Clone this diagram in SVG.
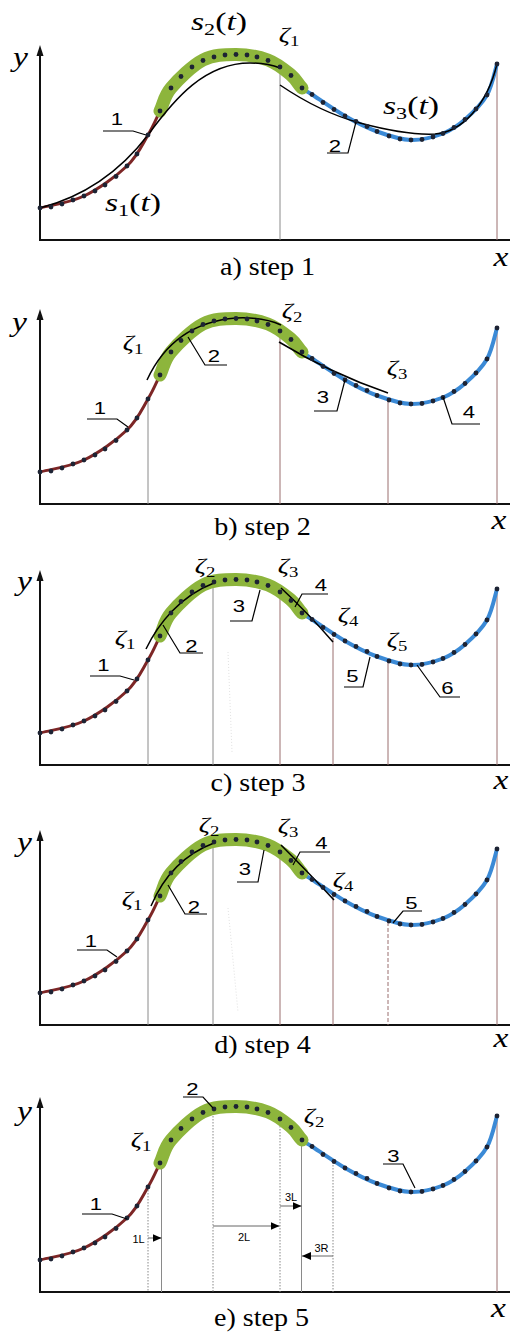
<svg xmlns="http://www.w3.org/2000/svg" width="510" height="1335" viewBox="0 0 510 1335">
<style>
 .ax{stroke:#111;stroke-width:2;fill:none}
 .red{stroke:#7d2626;stroke-width:3;fill:none;stroke-linecap:round}
 .blue{stroke:#3b8ad6;stroke-width:4;fill:none;stroke-linecap:round}
 .band{stroke:#8db53c;stroke-width:13;fill:none;stroke-linecap:round}
 .fit{stroke:#000;stroke-width:1.5;fill:none}
 .ld{stroke:#000;stroke-width:1.2;fill:none}
 .vg{stroke:#8a8a8a;stroke-width:1;fill:none}
 .vr{stroke:#9a6e6e;stroke-width:1;fill:none}
 .vd{stroke:#888;stroke-width:1;stroke-dasharray:1.5 1.5;fill:none}
 .arr{stroke:#666;stroke-width:1;fill:none}
 .dot{fill:#1d2333}
 .it{font-family:'Liberation Serif',serif;font-style:italic;fill:#000}
 .cap{font-family:'Liberation Serif',serif;font-size:26px;fill:#000}
 .num{font-family:'Liberation Sans',sans-serif;font-size:17px;fill:#000}
 .sm{font-family:'Liberation Sans',sans-serif;font-size:11px;fill:#000}
 .up{font-style:normal}
</style>
<defs>
 <marker id="ah" markerUnits="userSpaceOnUse" markerWidth="9" markerHeight="8" refX="9" refY="4" orient="auto">
  <path d="M0,0 L9,4 L0,8 Z" fill="#000"/>
 </marker>
 <g id="axes">
  <path class="ax" d="M40,241V53M39,240H510"/>
  <path d="M40,45 L36.5,56 L43.5,56 Z" fill="#111"/>
 </g>
 <g id="line">
  <path class="red" d="M40,208 C47.3,206 69.5,203 84,196 C98.5,189 116.3,176.2 127,166 C137.7,155.8 142.5,144.2 148,135 C153.5,125.8 156.2,118.8 160,111"/>
  <path class="blue" d="M302,88 C305.5,91.25 304.8,89.8 312,94.5 C319.2,99.2 334.2,109.8 345,116 C355.8,122.2 366,127.5 377,131.5 C388,135.5 400,139.7 411,140 C422,140.3 434,136.9 443,133.5 C452,129.9 457.7,125.9 465,119.5 C472.3,113.1 481.7,104.25 487,95 C492.3,85.75 495.3,69.2 497,64"/>
  <path class="band" d="M160,111 C163.8,103.2 163.8,96.5 171,88 C178.2,79.5 192.2,65.6 203,60 C213.8,54.4 225.2,54.5 236,54.5 C246.8,54.5 258.8,56.6 268,60 C277.2,63.4 285.3,70.3 291,75 C296.7,79.7 298.5,84.75 302,88"/>
 </g>
 <g id="dots" class="dot">
  <circle cx="40" cy="208" r="2.4"/><circle cx="51" cy="207" r="2.4"/><circle cx="62" cy="204" r="2.4"/>
  <circle cx="73" cy="200" r="2.4"/><circle cx="84" cy="196" r="2.4"/><circle cx="95" cy="191" r="2.4"/>
  <circle cx="105" cy="185" r="2.4"/><circle cx="116" cy="176.5" r="2.4"/><circle cx="127" cy="166" r="2.4"/>
  <circle cx="137" cy="154" r="2.4"/><circle cx="148" cy="135" r="2.4"/><circle cx="160" cy="111" r="2.4"/>
  <circle cx="171" cy="88" r="2.4"/><circle cx="181" cy="76.5" r="2.4"/><circle cx="192" cy="67" r="2.4"/>
  <circle cx="203" cy="60.5" r="2.4"/><circle cx="214" cy="57" r="2.4"/><circle cx="225" cy="55" r="2.4"/>
  <circle cx="236" cy="54.5" r="2.4"/><circle cx="247" cy="55" r="2.4"/><circle cx="257" cy="57" r="2.4"/>
  <circle cx="268" cy="60.5" r="2.4"/><circle cx="280" cy="67" r="2.4"/><circle cx="291" cy="75.5" r="2.4"/>
  <circle cx="302" cy="88" r="2.4"/><circle cx="312" cy="94.5" r="2.4"/><circle cx="323" cy="102.5" r="2.4"/>
  <circle cx="334" cy="109.5" r="2.4"/><circle cx="345" cy="116" r="2.4"/><circle cx="356" cy="121.5" r="2.4"/>
  <circle cx="367" cy="126.5" r="2.4"/><circle cx="377" cy="131.5" r="2.4"/><circle cx="389" cy="136" r="2.4"/>
  <circle cx="400" cy="139" r="2.4"/><circle cx="411" cy="140" r="2.4"/><circle cx="422" cy="139.5" r="2.4"/>
  <circle cx="433" cy="137" r="2.4"/><circle cx="443" cy="133.5" r="2.4"/><circle cx="454" cy="127.5" r="2.4"/>
  <circle cx="465" cy="119.5" r="2.4"/><circle cx="476" cy="109" r="2.4"/><circle cx="487" cy="95" r="2.4"/>
  <circle cx="497" cy="64" r="2.4"/>
 </g>
</defs>

<!-- Panel a -->
<g id="panel-a">
 <use href="#axes"/>
 <path class="vg" d="M280,68V240"/>
 <path class="vr" d="M497,64V240"/>
 <use href="#line"/>
 <g id="fits-a">
  <path class="fit" d="M40,208 C90,195 125,165 148,135 C175,98 205,63 250,63 C265,63 275,66 280,68"/>
  <path class="fit" d="M280,85 C305,102 330,115 360,123 C390,131 415,135 435,134 C462,132 487,105 497,64"/>
 </g>
 <use href="#dots"/>
 <g id="leaders-a">
  <path class="ld" d="M103,131 H133 L146,135"/>
  <path class="ld" d="M327,153 H348 L356,122"/>
 </g>
 <text class="it" font-size="28" text-anchor="middle" transform="translate(20.5,66) scale(1.2,1)">y</text>
 <text class="it" font-size="28" text-anchor="middle" transform="translate(501,266) scale(1.2,1)">x</text>
 <text class="cap" text-anchor="middle" transform="translate(267.5,275) scale(1.08,1)">a) step 1</text>
 <text class="it" font-size="26" text-anchor="middle" transform="translate(219,30) scale(1.3,1)">s<tspan class="up" font-size="17" dy="5">2</tspan><tspan class="up" dy="-5">(</tspan>t<tspan class="up">)</tspan></text>
 <text class="it" font-size="26" text-anchor="middle" transform="translate(411,114) scale(1.3,1)">s<tspan class="up" font-size="17" dy="5">3</tspan><tspan class="up" dy="-5">(</tspan>t<tspan class="up">)</tspan></text>
 <text class="it" font-size="26" text-anchor="middle" transform="translate(133,211) scale(1.3,1)">s<tspan class="up" font-size="17" dy="5">1</tspan><tspan class="up" dy="-5">(</tspan>t<tspan class="up">)</tspan></text>
 <text class="it" font-size="22" text-anchor="middle" transform="translate(289,42) scale(1.25,1)">ζ<tspan class="up" font-size="15" dy="4">1</tspan></text>
 <text class="num" text-anchor="middle" transform="translate(117,125) scale(1.3,1)">1</text>
 <text class="num" text-anchor="middle" transform="translate(335,152) scale(1.3,1)">2</text>
</g>

<!-- Panel b -->
<g id="panel-b">
 <use href="#axes" y="264"/>
 <path class="vg" d="M148,399V504"/>
 <path class="vr" d="M280,331V504"/>
 <path class="vr" d="M388,401V504"/>
 <path class="vr" d="M497,328V504"/>
 <use href="#line" y="264"/>
 <g id="fits-b">
  <path class="fit" d="M147,380 C160,352 185,322 236,318 C258,317 272,321 281,325"/>
  <path class="fit" d="M279,342 Q330,373 388,393"/>
 </g>
 <use href="#dots" y="264"/>
 <g id="leaders-b">
  <path class="ld" d="M87,419 H117 L128,427"/>
  <path class="ld" d="M227,365 H205 L188,337"/>
  <path class="ld" d="M314,411 H337 L345,380"/>
  <path class="ld" d="M480,424 H452 L443,397"/>
 </g>
 <text class="it" font-size="28" text-anchor="middle" transform="translate(19.5,331) scale(1.2,1)">y</text>
 <text class="it" font-size="28" text-anchor="middle" transform="translate(499,529) scale(1.2,1)">x</text>
 <text class="cap" text-anchor="middle" transform="translate(262.5,535) scale(1.08,1)">b) step 2</text>
 <text class="it" font-size="22" text-anchor="middle" transform="translate(133,350) scale(1.25,1)">ζ<tspan class="up" font-size="15" dy="4">1</tspan></text>
 <text class="it" font-size="22" text-anchor="middle" transform="translate(292,318) scale(1.25,1)">ζ<tspan class="up" font-size="15" dy="4">2</tspan></text>
 <text class="it" font-size="22" text-anchor="middle" transform="translate(397,375) scale(1.25,1)">ζ<tspan class="up" font-size="15" dy="4">3</tspan></text>
 <text class="num" text-anchor="middle" transform="translate(100,414) scale(1.3,1)">1</text>
 <text class="num" text-anchor="middle" transform="translate(214,362) scale(1.3,1)">2</text>
 <text class="num" text-anchor="middle" transform="translate(323,403) scale(1.3,1)">3</text>
 <text class="num" text-anchor="middle" transform="translate(469,418) scale(1.3,1)">4</text>
</g>

<!-- Panel c -->
<g id="panel-c">
 <use href="#axes" y="525"/>
 <path class="vg" d="M148,660V765"/>
 <path class="vg" d="M213,583V765"/>
 <path class="vr" d="M280,592V765"/>
 <path class="vr" d="M333,638V765"/>
 <path class="vr" d="M388,660V765"/>
 <path class="vr" d="M497,589V765"/>
 <path d="M228,652 L232,752" stroke="#e2e2e2" stroke-width="1" stroke-dasharray="1 2" fill="none"/>
 <use href="#line" y="525"/>
 <g id="fits-c">
  <path class="fit" d="M146,649 C158,624 180,596 214,583"/>
  <path class="fit" d="M281,588 Q308,613 333,642"/>
 </g>
 <use href="#dots" y="525"/>
 <g id="leaders-c">
  <path class="ld" d="M90,676 H120 L134,680"/>
  <path class="ld" d="M203,653 H180 L163,625"/>
  <path class="ld" d="M230,621 H252 L260,590"/>
  <path class="ld" d="M328,594 H302 L295,607"/>
  <path class="ld" d="M344,687 H363 L370,657"/>
  <path class="ld" d="M460,697 H440 L417,665"/>
 </g>
 <text class="it" font-size="28" text-anchor="middle" transform="translate(24.5,590) scale(1.2,1)">y</text>
 <text class="it" font-size="28" text-anchor="middle" transform="translate(501,789) scale(1.2,1)">x</text>
 <text class="cap" text-anchor="middle" transform="translate(258,791) scale(1.08,1)">c) step 3</text>
 <text class="it" font-size="22" text-anchor="middle" transform="translate(125,645) scale(1.25,1)">ζ<tspan class="up" font-size="15" dy="4">1</tspan></text>
 <text class="it" font-size="22" text-anchor="middle" transform="translate(205,573) scale(1.25,1)">ζ<tspan class="up" font-size="15" dy="4">2</tspan></text>
 <text class="it" font-size="22" text-anchor="middle" transform="translate(288,573) scale(1.25,1)">ζ<tspan class="up" font-size="15" dy="4">3</tspan></text>
 <text class="it" font-size="22" text-anchor="middle" transform="translate(348,622) scale(1.25,1)">ζ<tspan class="up" font-size="15" dy="4">4</tspan></text>
 <text class="it" font-size="22" text-anchor="middle" transform="translate(397,647) scale(1.25,1)">ζ<tspan class="up" font-size="15" dy="4">5</tspan></text>
 <text class="num" text-anchor="middle" transform="translate(103.5,671) scale(1.3,1)">1</text>
 <text class="num" text-anchor="middle" transform="translate(191.5,652) scale(1.3,1)">2</text>
 <text class="num" text-anchor="middle" transform="translate(239,612) scale(1.3,1)">3</text>
 <text class="num" text-anchor="middle" transform="translate(321,591) scale(1.3,1)">4</text>
 <text class="num" text-anchor="middle" transform="translate(352.5,682) scale(1.3,1)">5</text>
 <text class="num" text-anchor="middle" transform="translate(447.5,694) scale(1.3,1)">6</text>
</g>

<!-- Panel d -->
<g id="panel-d">
 <use href="#axes" y="785"/>
 <path class="vg" d="M148,920V1025"/>
 <path class="vg" d="M213,843V1025"/>
 <path class="vr" d="M280,852V1025"/>
 <path class="vr" d="M333,895V1025"/>
 <path class="vr" d="M388,922V1025" stroke-dasharray="4 2"/>
 <path class="vr" d="M497,849V1025"/>
 <path d="M228,908 L238,1012" stroke="#e2e2e2" stroke-width="1" stroke-dasharray="1 2" fill="none"/>
 <use href="#line" y="785"/>
 <g id="fits-d">
  <path class="fit" d="M151,906 C162,880 182,855 214,843"/>
  <path class="fit" d="M281,845 Q306,870 334,900"/>
 </g>
 <use href="#dots" y="785"/>
 <g id="leaders-d">
  <path class="ld" d="M77,950 H107 L117,957"/>
  <path class="ld" d="M207,914 H185 L168,885"/>
  <path class="ld" d="M237,882 H258 L264,850"/>
  <path class="ld" d="M330,852 H300 L293,865"/>
  <path class="ld" d="M422,911 H403 L393,923"/>
 </g>
 <text class="it" font-size="28" text-anchor="middle" transform="translate(24.5,851) scale(1.2,1)">y</text>
 <text class="it" font-size="28" text-anchor="middle" transform="translate(501,1047) scale(1.2,1)">x</text>
 <text class="cap" text-anchor="middle" transform="translate(262.5,1053) scale(1.08,1)">d) step 4</text>
 <text class="it" font-size="22" text-anchor="middle" transform="translate(132,906) scale(1.25,1)">ζ<tspan class="up" font-size="15" dy="4">1</tspan></text>
 <text class="it" font-size="22" text-anchor="middle" transform="translate(209,832) scale(1.25,1)">ζ<tspan class="up" font-size="15" dy="4">2</tspan></text>
 <text class="it" font-size="22" text-anchor="middle" transform="translate(288,833) scale(1.25,1)">ζ<tspan class="up" font-size="15" dy="4">3</tspan></text>
 <text class="it" font-size="22" text-anchor="middle" transform="translate(343,887) scale(1.25,1)">ζ<tspan class="up" font-size="15" dy="4">4</tspan></text>
 <text class="num" text-anchor="middle" transform="translate(91,947) scale(1.3,1)">1</text>
 <text class="num" text-anchor="middle" transform="translate(194,913) scale(1.3,1)">2</text>
 <text class="num" text-anchor="middle" transform="translate(245,875) scale(1.3,1)">3</text>
 <text class="num" text-anchor="middle" transform="translate(321.5,849) scale(1.3,1)">4</text>
 <text class="num" text-anchor="middle" transform="translate(411.5,909) scale(1.3,1)">5</text>
</g>

<!-- Panel e -->
<g id="panel-e">
 <use href="#axes" y="1052"/>
 <path class="vd" d="M148,1187V1292"/>
 <path class="vg" d="M161.5,1163V1292"/>
 <path class="vd" d="M213,1110V1292"/>
 <path class="vd" d="M280,1120V1292"/>
 <path class="vg" d="M301.5,1140V1292"/>
 <path class="vd" d="M333,1162V1292"/>
 <path class="vr" d="M497,1116V1292"/>
 <use href="#line" y="1052"/>
 <use href="#dots" y="1052"/>
 <g id="connectors-e">
  <path class="arr" d="M148,1238H161.5" marker-end="url(#ah)"/>
  <path class="arr" d="M213,1226H279.5" marker-end="url(#ah)"/>
  <path class="arr" d="M280,1206H301.5" marker-end="url(#ah)"/>
  <path class="arr" d="M333,1256H302" marker-end="url(#ah)"/>
 </g>
 <g id="leaders-e">
  <path class="ld" d="M82,1214 H112 L127,1219"/>
  <path class="ld" d="M183,1097 H203 L213,1108"/>
  <path class="ld" d="M383,1164 H403 L415,1188"/>
 </g>
 <text class="it" font-size="28" text-anchor="middle" transform="translate(24.5,1120) scale(1.2,1)">y</text>
 <text class="it" font-size="28" text-anchor="middle" transform="translate(498.5,1317) scale(1.2,1)">x</text>
 <text class="cap" text-anchor="middle" transform="translate(261.5,1326) scale(1.08,1)">e) step 5</text>
 <text class="it" font-size="22" text-anchor="middle" transform="translate(141,1147) scale(1.25,1)">ζ<tspan class="up" font-size="15" dy="4">1</tspan></text>
 <text class="it" font-size="22" text-anchor="middle" transform="translate(314,1123) scale(1.25,1)">ζ<tspan class="up" font-size="15" dy="4">2</tspan></text>
 <text class="num" text-anchor="middle" transform="translate(96,1210) scale(1.3,1)">1</text>
 <text class="num" text-anchor="middle" transform="translate(192.5,1095) scale(1.3,1)">2</text>
 <text class="num" text-anchor="middle" transform="translate(393.5,1162) scale(1.3,1)">3</text>
 <text class="sm" text-anchor="middle" x="138.5" y="1243">1L</text>
 <text class="sm" text-anchor="middle" x="244" y="1241">2L</text>
 <text class="sm" text-anchor="middle" x="291" y="1201">3L</text>
 <text class="sm" text-anchor="middle" x="321.5" y="1252">3R</text>
</g>
</svg>
